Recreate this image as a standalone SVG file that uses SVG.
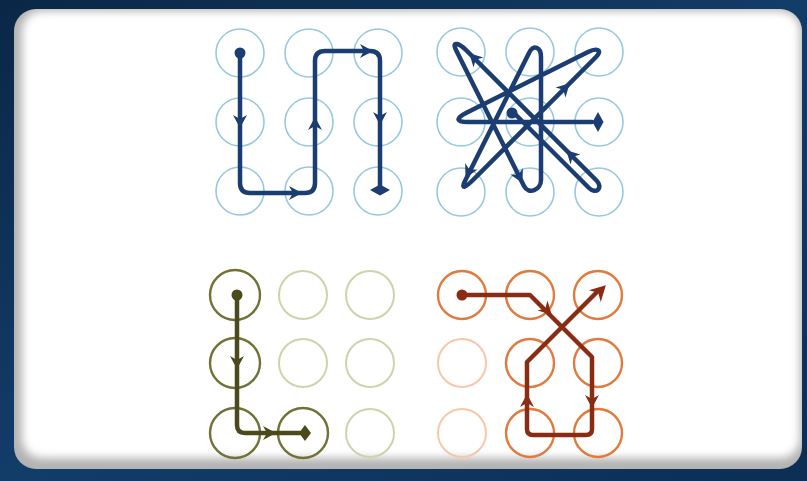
<svg xmlns="http://www.w3.org/2000/svg" xmlns:xlink="http://www.w3.org/1999/xlink" width="807" height="481" viewBox="0 0 807 481">
  <style>
    .cb{fill:none;stroke:#98c8df;stroke-width:1.6}
    .pb{fill:none;stroke:#1b3d71;stroke-width:4.5;stroke-linecap:round;stroke-linejoin:round}
    .fb{fill:#1b3d71}
    .go-on{fill:none;stroke:#707236;stroke-width:2.4}
    .go-off{fill:none;stroke:#cdd4aa;stroke-width:2}
    .pg{fill:none;stroke:#4a4a1c;stroke-width:4.5;stroke-linecap:round;stroke-linejoin:round}
    .fg{fill:#4a4a1c}
    .or-on{fill:none;stroke:#e07a3e;stroke-width:2.4}
    .or-off{fill:none;stroke:#f6c8aa;stroke-width:2}
    .po{fill:none;stroke:#8a2c14;stroke-width:4.5;stroke-linecap:round;stroke-linejoin:round}
    .fo{fill:#8a2c14}
  </style>
  <defs>
    <path id="ah" d="M1,0 L-12,-7 L-8,0 L-12,7 Z"/>
    <linearGradient id="bg" x1="0" y1="0" x2="1" y2="1">
      <stop offset="0" stop-color="#0a2746"/>
      <stop offset="0.5" stop-color="#123d69"/>
      <stop offset="1" stop-color="#0c2e55"/>
    </linearGradient>
    <filter id="blur" x="-5%" y="-5%" width="110%" height="110%">
      <feGaussianBlur stdDeviation="4"/>
    </filter>
    <clipPath id="cardclip">
      <rect x="14" y="9" width="788" height="460" rx="22"/>
    </clipPath>
  </defs>

  <rect x="0" y="0" width="807" height="481" fill="url(#bg)"/>

  <g id="card" clip-path="url(#cardclip)">
    <rect x="14" y="9" width="788" height="460" fill="#b3b3b3"/>
    <rect x="22" y="11" width="778" height="447" rx="20" fill="#ffffff" filter="url(#blur)"/>
  </g>

  <!-- Top-left grid -->
  <g id="grid-top-left">
    <circle class="cb" cx="240" cy="53" r="24"/>
    <circle class="cb" cx="309" cy="53" r="24"/>
    <circle class="cb" cx="378" cy="53" r="24"/>
    <circle class="cb" cx="240" cy="122" r="24"/>
    <circle class="cb" cx="309" cy="122" r="24"/>
    <circle class="cb" cx="378" cy="122" r="24"/>
    <circle class="cb" cx="240" cy="191" r="24"/>
    <circle class="cb" cx="309" cy="191" r="24"/>
    <circle class="cb" cx="378" cy="191" r="24"/>
  </g>

  <!-- Top-right grid -->
  <g id="grid-top-right">
    <circle class="cb" cx="461" cy="52" r="24"/>
    <circle class="cb" cx="530" cy="52" r="24"/>
    <circle class="cb" cx="599" cy="52" r="24"/>
    <circle class="cb" cx="461" cy="122" r="24"/>
    <circle class="cb" cx="530" cy="122" r="24"/>
    <circle class="cb" cx="599" cy="122" r="24"/>
    <circle class="cb" cx="461" cy="192" r="24"/>
    <circle class="cb" cx="530" cy="192" r="24"/>
    <circle class="cb" cx="599" cy="192" r="24"/>
  </g>

  <!-- Bottom-left grid -->
  <g id="grid-bottom-left">
    <circle class="go-on" cx="235" cy="295" r="25"/>
    <circle class="go-off" cx="303" cy="295" r="24"/>
    <circle class="go-off" cx="370" cy="295" r="24"/>
    <circle class="go-on" cx="235" cy="363" r="25"/>
    <circle class="go-off" cx="303" cy="363" r="24"/>
    <circle class="go-off" cx="370" cy="363" r="24"/>
    <circle class="go-on" cx="235" cy="433" r="25"/>
    <circle class="go-on" cx="303" cy="433" r="25"/>
    <circle class="go-off" cx="370" cy="433" r="24"/>
  </g>

  <!-- Bottom-right grid -->
  <g id="grid-bottom-right">
    <circle class="or-on" cx="462" cy="295" r="24"/>
    <circle class="or-on" cx="530" cy="295" r="24"/>
    <circle class="or-on" cx="598" cy="295" r="24"/>
    <circle class="or-off" cx="462" cy="363" r="24"/>
    <circle class="or-on" cx="530" cy="363" r="24"/>
    <circle class="or-on" cx="598" cy="363" r="24"/>
    <circle class="or-off" cx="462" cy="433" r="24"/>
    <circle class="or-on" cx="530" cy="433" r="24"/>
    <circle class="or-on" cx="598" cy="433" r="24"/>
  </g>

  <g id="connectors">
    <!-- top-left pattern -->
    <g id="path-top-left">
      <path class="pb" d="M240,53 V183 Q240,193 250,193 H305 Q315,193 315,183 V61 Q315,51 325,51 H370 Q380,51 380,61 V186"/>
      <circle class="fb" cx="240" cy="53" r="5.5"/>
      <use xlink:href="#ah" class="fb" transform="translate(240,127) rotate(90)"/>
      <use xlink:href="#ah" class="fb" transform="translate(301,193)"/>
      <use xlink:href="#ah" class="fb" transform="translate(315,118) rotate(-90)"/>
      <use xlink:href="#ah" class="fb" transform="translate(372,51)"/>
      <use xlink:href="#ah" class="fb" transform="translate(380,124) rotate(90)"/>
      <polygon class="fb" points="370,190 380,184.5 390,190 380,195.5"/>
    </g>
    <!-- top-right pattern -->
    <g id="path-top-right">
      <path class="pb" d="M512,111 L589,188 C596.1,195.1 603.6,187.6 596.5,180.5 L466,50 C458.9,42.9 451.5,41.1 456,50 L524,186 C528.5,195 541,190 541,180 V57 C541,47 533.5,44 529,53 L465,181 C460.5,190 465.9,187.1 473,180 L596,57 C603.1,49.9 596.9,47.5 588,52 L466,113 C455.3,118.4 456,122 468,122 L592,122"/>
      <circle class="fb" cx="512" cy="113" r="5.5"/>
      <use xlink:href="#ah" class="fb" transform="translate(567,151) rotate(-135)"/>
      <use xlink:href="#ah" class="fb" transform="translate(470,54) rotate(-135)"/>
      <use xlink:href="#ah" class="fb" transform="translate(522,182) rotate(63.4)"/>
      <use xlink:href="#ah" class="fb" transform="translate(466,177) rotate(116.6)"/>
      <use xlink:href="#ah" class="fb" transform="translate(569,84) rotate(-45)"/>
      <polygon class="fb" points="598,112 603.5,122 598,132 592.5,122"/>
    </g>
    <!-- bottom-left pattern -->
    <g id="path-bottom-left">
      <path class="pg" d="M237,295 V425 Q237,433 245,433 H300"/>
      <circle class="fg" cx="237" cy="295" r="5.5"/>
      <use xlink:href="#ah" class="fg" transform="translate(237,368) rotate(90)"/>
      <use xlink:href="#ah" class="fg" transform="translate(275,433)"/>
      <polygon class="fg" points="305,425 311,433 305,441 299,433"/>
    </g>
    <!-- bottom-right pattern -->
    <g id="path-bottom-right">
      <path class="po" d="M462,295 H530 L592,357 V429 Q592,435 586,435 H533 Q527,435 527,429 V362 L597,292"/>
      <circle class="fo" cx="462" cy="295" r="5.5"/>
      <use xlink:href="#ah" class="fo" transform="translate(551,314) rotate(45)"/>
      <use xlink:href="#ah" class="fo" transform="translate(592,407) rotate(90)"/>
      <use xlink:href="#ah" class="fo" transform="translate(527,395) rotate(-90)"/>
      <use xlink:href="#ah" class="fo" transform="translate(605,286) rotate(-45) scale(1.2)"/>
    </g>
  </g>
</svg>
